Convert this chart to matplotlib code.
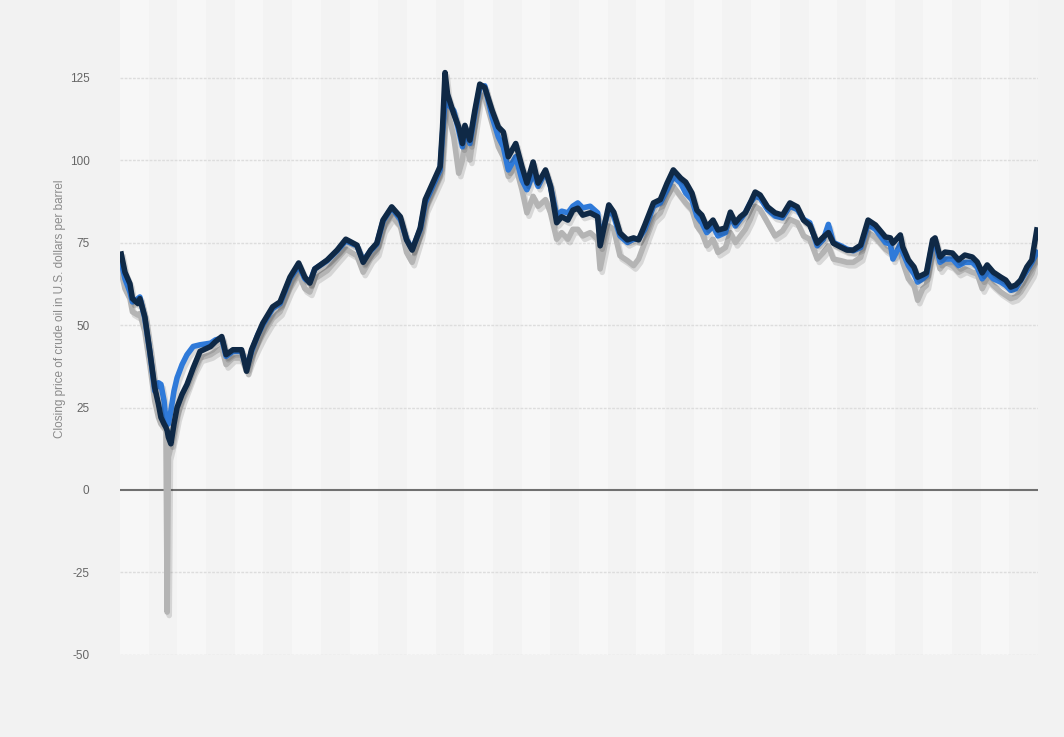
import matplotlib.pyplot as plt
import matplotlib.patheffects as pe

# months since January 2020
months = [0.1, 0.4, 0.8, 1.0, 1.45, 1.6, 2.0, 2.4, 2.8, 3.1, 3.3, 3.55, 3.7, 3.8, 3.9,
          4.1, 4.35, 4.6, 5.0, 5.4, 5.9, 6.45, 7.3, 7.7, 8.2, 8.55, 9.1, 9.8, 10.2, 10.6,
          11.1, 11.5, 12.3, 12.9, 13.7, 14.4, 14.9, 15.3, 15.7, 16.7, 17.5, 18.2, 19.1, 19.6,
          20.2, 20.7, 21.2, 21.9, 22.6, 23.1, 23.55, 24.2, 24.6, 25.2, 25.8, 26.0, 26.2, 26.4,
          26.9, 27.3, 27.6, 27.8, 28.2, 28.6, 29.0, 29.4, 30.0, 30.5, 30.9, 31.3, 31.9, 32.4,
          32.8, 33.3, 33.7, 34.3, 34.7, 35.2, 35.6, 36.1, 36.5, 36.9, 37.3, 37.9, 38.5, 38.7,
          39.4, 39.8, 40.3, 40.9, 41.4, 41.8, 42.3, 43.0, 43.55, 44.1, 44.6, 45.2, 45.6, 46.1,
          46.5, 46.9, 47.3, 47.8, 48.2, 48.8, 49.2, 49.6, 50.0, 50.4, 50.8, 51.2, 51.6, 52.2,
          52.8, 53.4, 54.0, 54.6, 55.1, 55.6, 56.2, 56.7, 57.1, 57.5, 58.1, 58.6, 59.1, 59.7,
          60.3, 60.9, 61.7, 62.1, 62.3, 62.9, 63.1, 63.55, 64.0, 64.3, 64.7, 65.0, 65.5, 65.7,
          66.1, 66.5, 67.1, 67.6, 68.1, 68.7, 69.1, 69.5, 69.9, 70.4, 71.0, 71.4, 71.8, 72.2,
          72.6, 73.1, 73.5, 73.9]

brent = [71.5, 66, 62.5, 58, 56.5, 58, 52.5, 42, 31, 26, 22, 20, 19, 18, 16,
         14, 20, 25, 29, 32, 37, 42, 43.5, 45, 46.5, 41, 42.5, 42.5, 36, 42.5,
         47, 50.5, 55.5, 57, 64.5, 68.8, 64.5, 62.7, 67, 69.7, 72.7, 76, 74.2, 69,
         72.7, 74.8, 81.8, 85.8, 82.8, 75.8, 72.7, 79.4, 88, 93, 98, 110, 126.5, 120,
         114, 110, 105, 110.5, 106, 115, 123, 122, 115, 110, 108.5, 101, 105, 98,
         93, 99.4, 93, 97, 92, 81, 82.8, 81.8, 84.8, 85.4, 83.3, 84, 82.8, 74,
         86.4, 84.2, 77.9, 75.8, 76.4, 75.8, 80.3, 87, 88, 93, 97, 94.5, 93.3, 90,
         84.8, 83.3, 79.7, 81.8, 78.8, 79.4, 84.2, 81, 82.8, 84, 87, 90.3, 89.4, 85.8,
         84, 83.3, 87, 85.8, 81.8, 80.3, 74.8, 76.7, 78, 74.8, 73.6, 72.7, 72.7, 74.2,
         81.8, 80.3, 76.7, 76.4, 74.8, 77.3, 73.6, 69.7, 67.6, 64.5, 65.2, 65.8, 75.8, 76.4,
         70.6, 72.1, 71.8, 69.7, 71.2, 70.6, 69.1, 65.8, 68.2, 66, 64.5, 63.6, 61.5, 62.1,
         63.6, 67.6, 69.7, 78.8]

opec = [69, 64, 60, 57, 58, 58.5, 52, 42, 30, 32.5, 32, 27, 21, 20, 20,
        24, 30, 34, 38, 41, 43.5, 44, 44.5, 45.5, 46, 40.5, 42, 42, 37, 42,
        47, 50, 55, 56.5, 64, 68, 64, 63, 67, 69.5, 72.5, 75.5, 74, 69.5,
        72.5, 74.5, 81.5, 85.5, 82, 76, 73, 79, 87, 92, 97, 108, 118, 117,
        115, 109, 104, 109, 105, 114, 122, 122.5, 113, 107, 104, 97, 101, 94,
        91, 96, 92, 96.5, 92, 83, 84.5, 84, 86, 87, 85.5, 86, 84, 76,
        85, 83, 77, 75, 76, 76, 79, 86, 87, 91, 95, 93, 90, 88,
        83, 81, 78, 80, 77, 78, 83, 80, 82, 84, 87, 89, 88.5, 85,
        83, 82.5, 86, 85, 82, 81, 74, 76, 80.5, 75, 74, 73, 72.5, 73.5,
        80.5, 79, 75, 74.5, 70, 74.5, 72, 68, 65.5, 63, 64, 65, 75, 75.5,
        69, 70, 70, 68, 69, 69, 67.5, 64, 66, 64, 63, 62, 60.5, 61,
        63.5, 66.5, 69, 72]

wti = [66, 61, 58, 54, 53, 53.5, 48, 38, 27, 22, 20, 19, 18, -37, 10,
       13, 17, 22, 27, 31, 36, 40, 41, 42, 43, 38, 40, 40, 36, 40,
       44, 47, 52, 54, 61, 65.5, 61, 60, 64, 66.5, 70, 73, 71, 66,
       70, 72, 79, 83, 80, 72, 69, 77, 85, 90, 95, 105, 120, 115,
       107, 96, 100, 106, 100, 110, 120, 119, 111, 104, 101, 95, 98, 91,
       84, 89, 86, 88, 84, 76, 78, 76, 79, 79, 77, 78, 76, 67,
       80, 79, 71, 69.5, 68, 70, 75, 82, 84, 89, 92, 89, 87, 85,
       80, 78, 74, 76, 72, 73.5, 78, 75, 77, 79, 82, 86, 85, 81,
       77, 78.5, 82, 81, 77, 76, 70, 72, 74, 70, 69.5, 69, 69, 70.5,
       78, 76.5, 73, 72, 71, 73, 69, 64, 62, 57.5, 61, 62, 72, 73,
       67, 69, 68, 66, 67, 66, 65.5, 61, 64, 62, 60, 59, 58, 58.5,
       60, 63, 65.5, 70]

yticks = [-50, -25, 0, 25, 50, 75, 100, 125]

fig = plt.figure(figsize=(10.64, 7.37), dpi=100, facecolor='#f2f2f2')
ax = fig.add_axes([0.1128, 0.1113, 0.8628, 0.8887])
ax.set_facecolor('#f3f3f3')
ax.set_xlim(0, 74.0)
ax.set_ylim(-50, 148.5)

# alternating vertical bands
nb = 32
for i in range(0, nb, 2):
    ax.axvspan(74.0 * i / nb, 74.0 * (i + 1) / nb, color='#f7f7f7', lw=0, zorder=0)

for v in yticks:
    if v == 0:
        ax.axhline(v, color='#707070', lw=1.5, zorder=1)
    else:
        ax.axhline(v, color='#dddddd', lw=1, ls=(0, (2, 1)), zorder=1)

shadow = [pe.SimpleLineShadow(offset=(1.5, -2.5), shadow_color='#000000', alpha=0.12),
          pe.Normal()]
ax.plot(months, wti, color='#b4b4b4', lw=4, solid_joinstyle='round', zorder=3,
        path_effects=shadow)
ax.plot(months, opec, color='#2f7ad9', lw=4, solid_joinstyle='round', zorder=4,
        path_effects=shadow)
ax.plot(months, brent, color='#0f2946', lw=4, solid_joinstyle='round', zorder=5,
        path_effects=shadow)

for s in ax.spines.values():
    s.set_visible(False)
ax.set_xticks([])
ax.set_yticks(yticks)
ax.set_yticklabels([str(v) for v in yticks], fontsize=8.5, color='#666666',
                   family='Liberation Sans')
ax.tick_params(axis='y', length=0, pad=22)
ax.text(-22 / 12.4, 149.5, '150', ha='right', va='center', fontsize=8.5,
        color='#666666', family='Liberation Sans', clip_on=False,
        transform=ax.transData)
ax.set_ylabel('Closing price of crude oil in U.S. dollars per barrel', fontsize=8.5,
              color='#8a8a8a', family='Liberation Sans')
ax.yaxis.set_label_coords(-0.059, 0.528)

fig.savefig('out.png', dpi=100, facecolor=fig.get_facecolor())
